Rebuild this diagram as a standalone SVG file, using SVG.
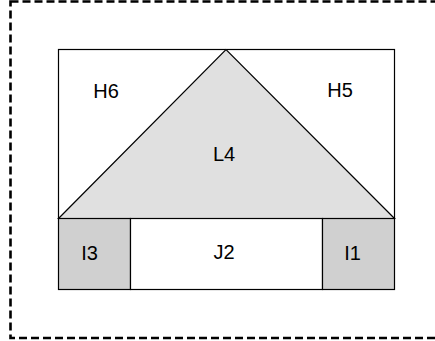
<svg xmlns="http://www.w3.org/2000/svg" width="435" height="341" viewBox="0 0 435 341">
<style>
.s{stroke:#000;stroke-width:1.2;}
.t{font-family:"Liberation Sans",Arial,sans-serif;font-size:20px;fill:#000;text-anchor:middle;}
</style>
<rect x="0" y="0" width="435" height="341" fill="#fff"/>
<g id="frame">
<rect x="10.5" y="1.5" width="440" height="336.5" fill="none" stroke="#000" stroke-width="2.6" stroke-dasharray="8,4"/>
</g>
<g id="top">
<rect class="s" x="58.5" y="49.5" width="336" height="169" fill="#fff"/>
<text class="t" x="106" y="98">H6</text>
<text class="t" x="340" y="97">H5</text>
</g>
<g id="L4">
<polygon class="s" points="58.5,218.5 226,49.5 394.5,218.5" fill="#e0e0e0"/>
<text class="t" x="224" y="161">L4</text>
</g>
<g id="I3">
<rect class="s" x="58.5" y="218.5" width="72" height="71" fill="#d0d0d0"/>
<text class="t" x="89.5" y="260">I3</text>
</g>
<g id="J2">
<rect class="s" x="130.5" y="218.5" width="192" height="71" fill="#fff"/>
<text class="t" x="224" y="259">J2</text>
</g>
<g id="I1">
<rect class="s" x="322.5" y="218.5" width="72" height="71" fill="#d0d0d0"/>
<text class="t" x="352.5" y="260">I1</text>
</g>
<g id="connectors"></g>
</svg>
